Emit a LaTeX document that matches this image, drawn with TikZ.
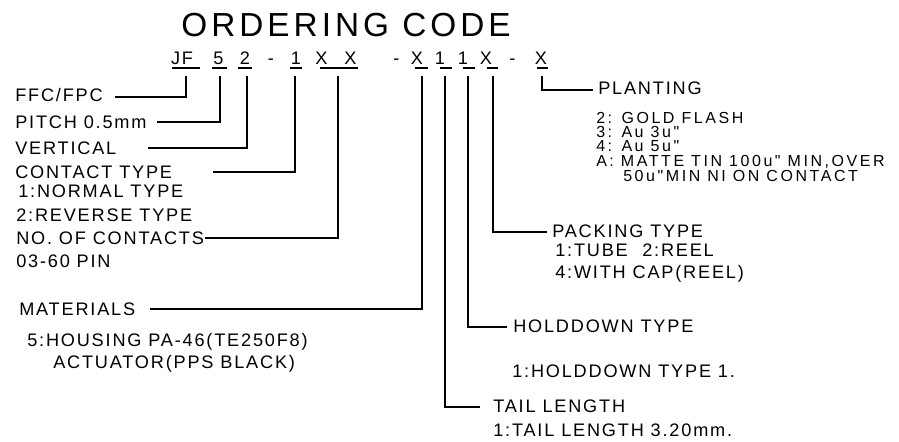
\documentclass[tikz,border=0pt]{standalone}
\usepackage{fontspec}
\setmainfont{Liberation Sans}
\newfontfamily\cadfont{Liberation Sans}[LetterSpace=10]
\newfontfamily\cadsmall{Liberation Sans}[LetterSpace=16]
\newfontfamily\cadtitle{Liberation Sans}[LetterSpace=12]
\usetikzlibrary{positioning}

\begin{document}
\begin{tikzpicture}[
    x=0.75pt, y=-0.75pt,
    lbl/.style={anchor=west, inner sep=0pt, text height=9.7pt, text depth=0pt, font=\cadfont\fontsize{13.6}{16}\selectfont},
    opt/.style={anchor=west, inner sep=0pt, text height=8.6pt, text depth=0pt, font=\cadsmall\fontsize{12}{13}\selectfont},
    code/.style={inner sep=0pt, text height=9.7pt, text depth=0pt, font=\cadfont\fontsize{13.6}{16}\selectfont},
    lead/.style={line width=0.9pt}
]
    \useasboundingbox (0,0) rectangle (899,442);

    % Title
    \node[inner sep=0pt, text height=17.6pt, text depth=0pt, font=\cadtitle\fontsize{25}{28}\selectfont] (title) at (346,25) {ORDERING CODE};

    % Code line
    \node[code] (c_jf) at (182,58.5) {JF};
    \node[code] (c_pitch) at (218.5,58.5) {5};
    \node[code] (c_vert) at (245,58.5) {2};
    \node[code] (d1) at (271,58.5) {-};
    \node[code] (c_type) at (296,58.5) {1};
    \node[code] (c_n1) at (321.5,58.5) {X};
    \node[code] (c_n2) at (350.5,58.5) {X};
    \node[code] (d2) at (396.5,58.5) {-};
    \node[code] (c_mat) at (417,58.5) {X};
    \node[code] (c_tail) at (440,58.5) {1};
    \node[code] (c_hold) at (463,58.5) {1};
    \node[code] (c_pack) at (486,58.5) {X};
    \node[code] (d3) at (512.5,58.5) {-};
    \node[code] (c_plant) at (541,58.5) {X};

    % Underlines
    \foreach \a/\b in {172/200, 212/227, 238/252, 290/302, 320/358, 415/428, 440/452, 463/475, 487/498, 537/548}
        \draw[lead] (\a,68) -- (\b,68);

    \coordinate (u_jf) at (186,76);
    \coordinate (u_pitch) at (220,76);
    \coordinate (u_vert) at (247,76);
    \coordinate (u_type) at (295,76);
    \coordinate (u_num) at (338,76);
    \coordinate (u_mat) at (422,76);
    \coordinate (u_tail) at (445,76);
    \coordinate (u_hold) at (468,76);
    \coordinate (u_pack) at (493,76);
    \coordinate (u_plant) at (542,76);

    % Left labels
    \node[lbl] (ffc) at (15,95) {FFC/FPC};
    \node[lbl] (pitch) at (15,122) {PITCH 0.5mm};
    \node[lbl] (vertical) at (15,148) {VERTICAL};
    \node[lbl] (ctype) at (15,172) {CONTACT TYPE};
    \node[lbl] (ctype1) at (18,191) {1:NORMAL TYPE};
    \node[lbl] (ctype2) at (16,215) {2:REVERSE TYPE};
    \node[lbl] (ncont) at (16,238) {NO. OF CONTACTS};
    \node[lbl] (npin) at (16,261) {03-60 PIN};
    \node[lbl] (mat) at (19,309) {MATERIALS};
    \node[lbl] (mat1) at (27,340) {5:HOUSING PA-46(TE250F8)};
    \node[lbl] (mat2) at (53,362) {ACTUATOR(PPS BLACK)};

    % Right labels
    \node[lbl] (plant) at (598,88) {PLANTING};
    \node[opt] (plant2) at (596,118) {2: GOLD FLASH};
    \node[opt] (plant3) at (596,132) {3: Au 3u"};
    \node[opt] (plant4) at (596,146) {4: Au 5u"};
    \node[opt] (plantA) at (596,160.5) {A: MATTE TIN 100u" MIN,OVER};
    \node[opt] (plantA2) at (623,175.5) {50u"MIN NI ON CONTACT};
    \node[lbl] (pack) at (552,231) {PACKING TYPE};
    \node[lbl] (pack1) at (555,250) {1:TUBE};
    \node[lbl] (pack2) at (642,250) {2:REEL};
    \node[lbl] (pack4) at (555,272) {4:WITH CAP(REEL)};
    \node[lbl] (hold) at (513,326) {HOLDDOWN TYPE};
    \node[lbl] (hold1) at (512,371) {1:HOLDDOWN TYPE 1.};
    \node[lbl] (tail) at (493,406) {TAIL LENGTH};
    \node[lbl] (tail1) at (493,430) {1:TAIL LENGTH 3.20mm.};

    % Leader ends
    \coordinate (e_ffc) at (115,97);
    \coordinate (e_pitch) at (157,122);
    \coordinate (e_vert) at (148,148);
    \coordinate (e_type) at (213,172);
    \coordinate (e_num) at (205,238);
    \coordinate (e_mat) at (150,309);
    \coordinate (e_tail) at (480,407);
    \coordinate (e_hold) at (507,327);
    \coordinate (e_pack) at (547,232);
    \coordinate (e_plant) at (593,90);

    % Leaders
    \draw[lead] (u_jf) |- (e_ffc);
    \draw[lead] (u_pitch) |- (e_pitch);
    \draw[lead] (u_vert) |- (e_vert);
    \draw[lead] (u_type) |- (e_type);
    \draw[lead] (u_num) |- (e_num);
    \draw[lead] (u_mat) |- (e_mat);
    \draw[lead] (u_tail) |- (e_tail);
    \draw[lead] (u_hold) |- (e_hold);
    \draw[lead] (u_pack) |- (e_pack);
    \draw[lead] (u_plant) |- (e_plant);
\end{tikzpicture}
\end{document}
